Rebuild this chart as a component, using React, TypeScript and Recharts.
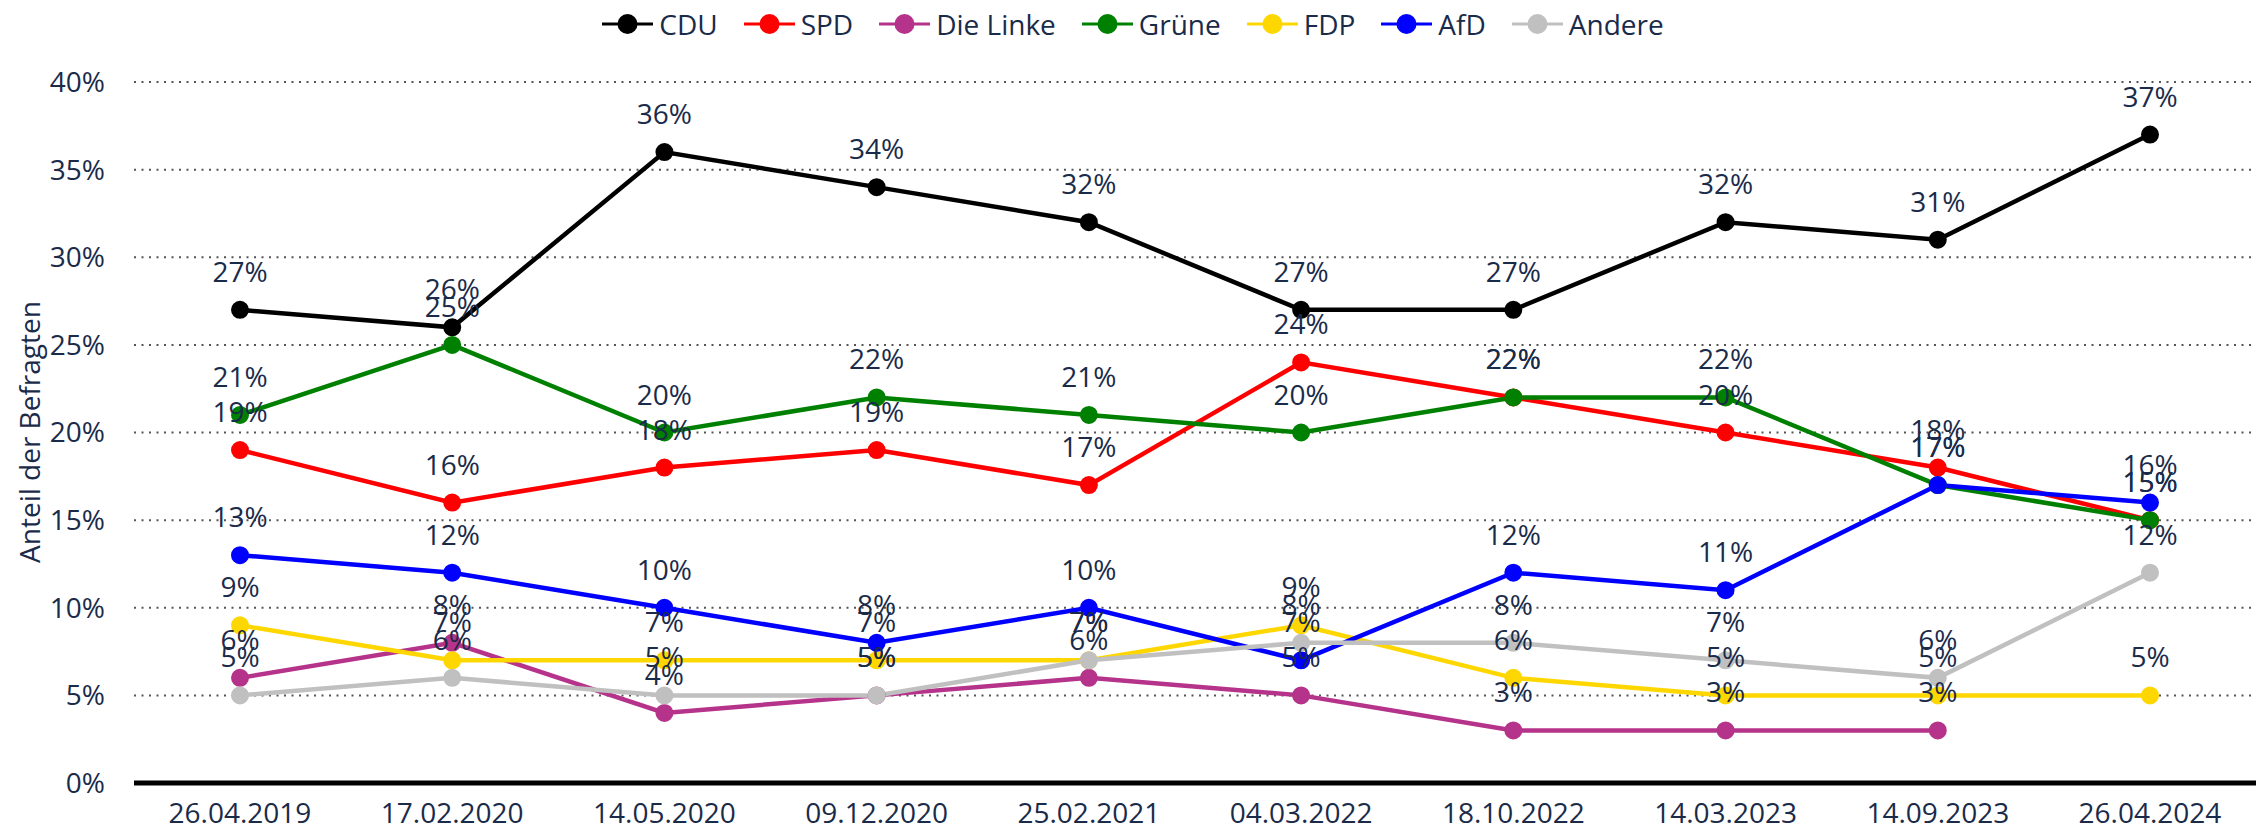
import React from "react";
import { LineChart, Line, XAxis, YAxis, CartesianGrid, LabelList, Label } from "recharts";

const dates = [
  "26.04.2019",
  "17.02.2020",
  "14.05.2020",
  "09.12.2020",
  "25.02.2021",
  "04.03.2022",
  "18.10.2022",
  "14.03.2023",
  "14.09.2023",
  "26.04.2024",
];

const cdu = [27, 26, 36, 34, 32, 27, 27, 32, 31, 37];
const spd = [19, 16, 18, 19, 17, 24, 22, 20, 18, 15];
const linke = [6, 8, 4, 5, 6, 5, 3, 3, 3, null];
const gruene = [21, 25, 20, 22, 21, 20, 22, 22, 17, 15];
const fdp = [9, 7, 7, 7, 7, 9, 6, 5, 5, 5];
const afd = [13, 12, 10, 8, 10, 7, 12, 11, 17, 16];
const andere = [5, 6, 5, 5, 7, 8, 8, 7, 6, 12];

const yTicks = [0, 5, 10, 15, 20, 25, 30, 35, 40];

const seriesNames = ["CDU", "SPD", "Die Linke", "Grüne", "FDP", "AfD", "Andere"];
const seriesColors = ["#000000", "#ff0000", "#b5338a", "#008000", "#ffd700", "#0000ff", "#c0c0c0"];
const seriesValues = [cdu, spd, linke, gruene, fdp, afd, andere];

const data = dates.map((d, i) => {
  const row: Record<string, any> = { date: d };
  seriesNames.forEach((n, s) => {
    row[n] = seriesValues[s][i];
  });
  return row;
});

const FONT = "'Open Sans', sans-serif";
const TEXT = "#1a2b4a";

function LegendRow() {
  return (
    <div
      style={{
        position: "absolute",
        left: 0,
        top: 4,
        width: 2266,
        display: "flex",
        justifyContent: "center",
        alignItems: "center",
        fontFamily: FONT,
        fontSize: 28,
        color: TEXT,
        lineHeight: "40px",
      }}
    >
      {seriesNames.map((n, i) => (
        <div key={n} style={{ display: "flex", alignItems: "center", marginRight: i < seriesNames.length - 1 ? 26 : 0 }}>
          <svg width={51} height={24} style={{ marginRight: 6 }}>
            <line x1={0} y1={12} x2={51} y2={12} stroke={seriesColors[i]} strokeWidth={3} />
            <circle cx={25.5} cy={12} r={10} fill={seriesColors[i]} />
          </svg>
          <span>{n}</span>
        </div>
      ))}
    </div>
  );
}

export default function App() {
  return (
    <div style={{ position: "absolute", left: 0, top: 0, width: 2266, height: 835, background: "#fff" }}>
      <LegendRow />
      <div style={{ position: "absolute", left: 0, top: 0 }}>
        <LineChart width={2266} height={835} data={data} margin={{ top: 82, right: 10, bottom: 0, left: 0 }}>
          <CartesianGrid vertical={false} stroke="#555" strokeWidth={2} strokeDasharray="2 5.5" />
          <XAxis
            dataKey="date"
            height={52}
            padding={{ left: 106, right: 106 }}
            axisLine={{ stroke: "#000", strokeWidth: 5 }}
            tickLine={false}
            tickSize={0}
            tickMargin={20}
            interval={0}
            tick={{ fill: TEXT, fontSize: 28, fontFamily: FONT }}
          />
          <YAxis
            width={134}
            domain={[0, 40]}
            ticks={yTicks}
            axisLine={false}
            tickLine={false}
            tickSize={0}
            tickMargin={29}
            tickFormatter={(v: number) => `${v}%`}
            tick={{ fill: TEXT, fontSize: 28, fontFamily: FONT }}
          >
            <Label
              content={() => (
                <text
                  x={29}
                  y={432}
                  transform="rotate(-90 29 432)"
                  textAnchor="middle"
                  dominantBaseline="central"
                  fill={TEXT}
                  fontSize={28}
                  fontFamily={FONT}
                >
                  Anteil der Befragten
                </text>
              )}
            />
          </YAxis>
          {seriesNames.map((n, i) => (
            <Line
              key={"l" + n}
              type="linear"
              dataKey={n}
              stroke={seriesColors[i]}
              strokeWidth={4.5}
              dot={{ r: 8, fill: seriesColors[i], stroke: seriesColors[i], strokeWidth: 2 }}
              activeDot={false}
              isAnimationActive={false}
            />
          ))}
          {seriesNames.map((n) => (
            <Line
              key={"t" + n}
              type="linear"
              dataKey={n}
              stroke="none"
              dot={false}
              activeDot={false}
              legendType="none"
              isAnimationActive={false}
            >
              <LabelList
                dataKey={n}
                position="top"
                offset={28}
                formatter={(v: any) => (v === null || v === undefined ? "" : `${v}%`)}
                style={{ fill: TEXT, fontSize: 28, fontFamily: FONT }}
              />
            </Line>
          ))}
        </LineChart>
      </div>
    </div>
  );
}
